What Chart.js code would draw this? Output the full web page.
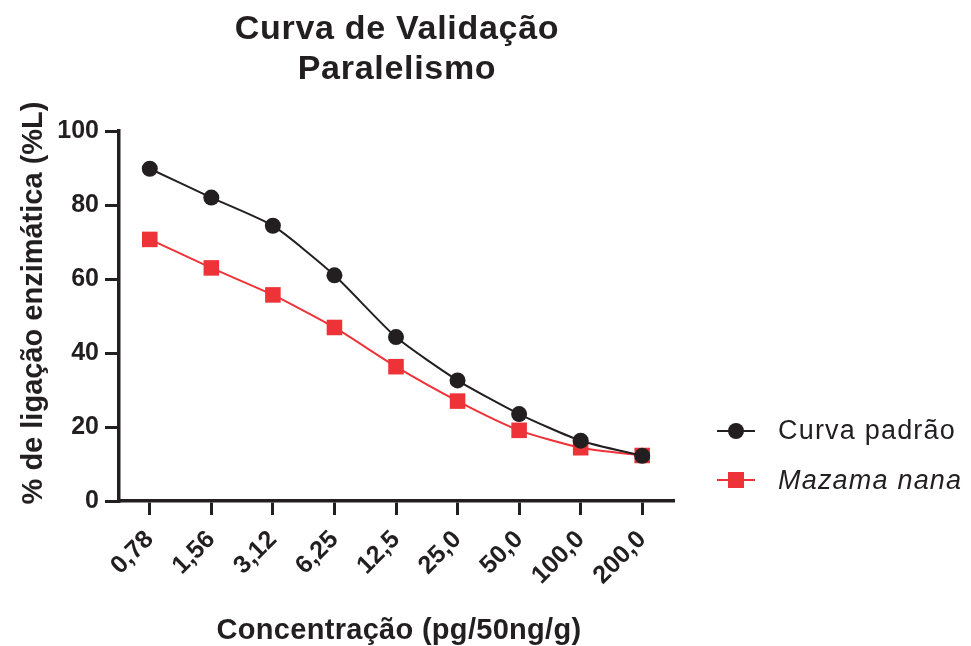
<!DOCTYPE html>
<html><head><meta charset="utf-8">
<script src="https://cdn.jsdelivr.net/npm/chart.js@4"></script>
<style>html,body{margin:0;padding:0;background:#fff}#wrap{width:971px;height:646px}</style>
</head><body><div id="wrap"><canvas id="c" width="971" height="646"></canvas></div>
<script>
const categories = ['0,78','1,56','3,12','6,25','12,5','25,0','50,0','100,0','200,0'];
const curvaPadrao = [89.8, 82.0, 74.4, 61.0, 44.3, 32.6, 23.5, 16.3, 12.2];
const mazamaNana = [70.7, 63.0, 55.7, 46.9, 36.3, 27.0, 19.1, 14.4, 12.3];
const yTickStep = 20;
const yMin = 0, yMax = 100;
const titleLines = ['Curva de Validação', 'Paralelismo'];
const seriesNames = ['Curva padrão', 'Mazama nana'];
const xTitle = 'Concentração (pg/50ng/g)';
const yTitle = '% de ligação enzimática (%L)';

const INK = '#231f20';
const RED = '#ee3338';
const FAM = '"Liberation Sans", Arial, Helvetica, sans-serif';

const decor = {
  id: 'decor',
  afterDraw(chart) {
    const ctx = chart.ctx;
    const a = chart.chartArea;
    const cx = (a.left + a.right) / 2;
    ctx.save();
    ctx.fillStyle = INK;
    ctx.textBaseline = 'alphabetic';
    // title
    ctx.font = 'bold 34px ' + FAM;
    ctx.letterSpacing = '0.7px';
    ctx.textAlign = 'center';
    ctx.fillText(titleLines[0], cx + 1, 39);
    ctx.fillText(titleLines[1], cx + 1, 79);
    // x title
    ctx.font = 'bold 29px ' + FAM;
    ctx.letterSpacing = '0.3px';
    ctx.fillText(xTitle, cx + 3, 639);
    // y title
    ctx.save();
    ctx.translate(42, 303);
    ctx.rotate(-Math.PI / 2);
    ctx.letterSpacing = '0px';
    ctx.fillText(yTitle, 0, 0);
    ctx.restore();
    // legend
    const lx1 = 717, lx2 = 755, mx = 736;
    const rows = [431, 480];
    ctx.lineWidth = 2;
    ctx.strokeStyle = INK;
    ctx.beginPath(); ctx.moveTo(lx1, rows[0]); ctx.lineTo(lx2, rows[0]); ctx.stroke();
    ctx.beginPath(); ctx.arc(mx, rows[0], 8, 0, Math.PI * 2); ctx.fill();
    ctx.strokeStyle = RED; ctx.fillStyle = RED;
    ctx.beginPath(); ctx.moveTo(lx1, rows[1]); ctx.lineTo(lx2, rows[1]); ctx.stroke();
    ctx.fillRect(mx - 8, rows[1] - 8, 16, 16);
    ctx.fillStyle = INK;
    ctx.textAlign = 'left';
    ctx.letterSpacing = '1.2px';
    ctx.font = '27px ' + FAM;
    ctx.fillText(seriesNames[0], 778, rows[0] + 8);
    ctx.font = 'italic 27px ' + FAM;
    ctx.fillText(seriesNames[1], 778, rows[1] + 9);
    ctx.restore();
  }
};

const axisCommon = {
  grid: { display: true, drawOnChartArea: false, drawTicks: true, tickLength: 14, lineWidth: 3, color: INK },
  border: { display: true, width: 3.5, color: INK }
};

new Chart(document.getElementById('c'), {
  type: 'line',
  data: {
    labels: categories,
    datasets: [
      {
        label: seriesNames[0], data: curvaPadrao,
        borderColor: INK, backgroundColor: INK, borderWidth: 2,
        pointStyle: 'circle', pointRadius: 8, pointBorderWidth: 0,
        pointBackgroundColor: INK, tension: 0.2, order: 0
      },
      {
        label: seriesNames[1], data: mazamaNana,
        borderColor: RED, backgroundColor: RED, borderWidth: 2,
        pointStyle: 'rect', pointRadius: 11, pointBorderWidth: 0,
        pointBackgroundColor: RED, tension: 0.2, order: 1
      }
    ]
  },
  options: {
    responsive: false,
    animation: false,
    layout: { padding: { top: 131, right: 298, left: 0, bottom: 0 } },
    plugins: { legend: { display: false }, title: { display: false }, tooltip: { enabled: false } },
    scales: {
      x: Object.assign({}, axisCommon, {
        type: 'category', offset: true,
        ticks: { minRotation: 45, maxRotation: 45, color: INK, padding: 10,
                 font: { family: FAM, size: 25, weight: 'bold' } },
        afterFit(s) { s.height = 145; }
      }),
      y: Object.assign({}, axisCommon, {
        min: yMin, max: yMax,
        ticks: { stepSize: yTickStep, color: INK, padding: 6,
                 font: { family: FAM, size: 25, weight: 'bold' } },
        afterFit(s) { s.width = 119; }
      })
    }
  },
  plugins: [decor]
});
</script>
</body></html>
